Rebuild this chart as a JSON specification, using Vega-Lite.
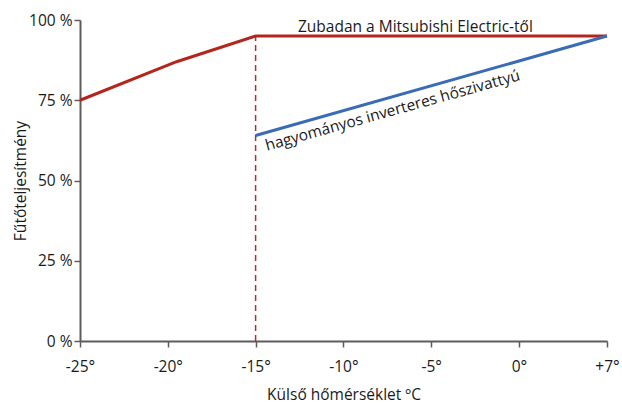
{
  "$schema": "https://vega.github.io/schema/vega-lite/v6.json",
  "width": 527,
  "height": 321,
  "autosize": "none",
  "padding": {"left": 80, "top": 20, "right": 15, "bottom": 64},
  "background": "white",
  "config": {
    "view": {"stroke": null},
    "font": "Open Sans",
    "axis": {
      "grid": false,
      "labelFlush": false,
      "domainColor": "#5c5c5c",
      "domainWidth": 2,
      "tickColor": "#5c5c5c",
      "tickWidth": 1.5,
      "tickSize": 6,
      "labelFont": "Open Sans",
      "labelFontSize": 15.5,
      "labelColor": "#1a1a1a",
      "titleFont": "Open Sans",
      "titleFontSize": 15.5,
      "titleFontWeight": "normal",
      "titleColor": "#1a1a1a"
    }
  },
  "datasets": {
    "lines": [
      {"series": "Zubadan", "temp": -25, "cap": 75},
      {"series": "Zubadan", "temp": -19.5, "cap": 87},
      {"series": "Zubadan", "temp": -15, "cap": 95},
      {"series": "Zubadan", "temp": 7, "cap": 95},
      {"series": "Inverter", "temp": -15, "cap": 64},
      {"series": "Inverter", "temp": 7, "cap": 95}
    ],
    "marker": [{"temp": -15, "cap": 0, "cap2": 95}],
    "labels": [
      {"label": "Zubadan a Mitsubishi Electric-től", "temp": -5.9, "cap": 96.3},
      {"label": "hagyományos inverteres hőszivattyú", "temp": -7.2, "cap": 71.8}
    ]
  },
  "layer": [
    {
      "data": {"name": "marker"},
      "mark": {"type": "rule", "color": "#c0282d", "strokeWidth": 1.5, "strokeDash": [6, 4]},
      "encoding": {
        "x": {"field": "temp", "type": "quantitative"},
        "y": {"field": "cap", "type": "quantitative"},
        "y2": {"field": "cap2"}
      }
    },
    {
      "data": {"name": "lines"},
      "mark": {"type": "line", "strokeWidth": 3},
      "encoding": {
        "x": {
          "field": "temp",
          "type": "quantitative",
          "scale": {"domain": [-25, 0, 7], "range": [0, 439, 527], "nice": false, "zero": false},
          "axis": {
            "values": [-25, -20, -15, -10, -5, 0, 7],
            "labelExpr": "(datum.value > 0 ? '+' : '') + datum.value + '°'",
            "labelPadding": 12,
            "title": "Külső hőmérséklet ºC",
            "titlePadding": 13
          }
        },
        "y": {
          "field": "cap",
          "type": "quantitative",
          "scale": {"domain": [0, 100], "nice": false},
          "axis": {
            "values": [0, 25, 50, 75, 100],
            "labelExpr": "datum.value + ' %'",
            "labelPadding": 2,
            "title": "Fűtőteljesítmény",
            "titlePadding": 0
          }
        },
        "color": {
          "field": "series",
          "type": "nominal",
          "scale": {"domain": ["Zubadan", "Inverter"], "range": ["#b3261e", "#3a6bb5"]},
          "legend": null
        }
      }
    },
    {
      "data": {"name": "labels"},
      "transform": [{"filter": "datum.label == 'Zubadan a Mitsubishi Electric-től'"}],
      "mark": {"type": "text", "align": "center", "baseline": "alphabetic", "fontSize": 15.5, "color": "#1a1a1a"},
      "encoding": {
        "x": {"field": "temp", "type": "quantitative"},
        "y": {"field": "cap", "type": "quantitative"},
        "text": {"field": "label"}
      }
    },
    {
      "data": {"name": "labels"},
      "transform": [{"filter": "datum.label == 'hagyományos inverteres hőszivattyú'"}],
      "mark": {"type": "text", "align": "center", "baseline": "middle", "fontSize": 15.5, "angle": -15.6, "color": "#1a1a1a"},
      "encoding": {
        "x": {"field": "temp", "type": "quantitative"},
        "y": {"field": "cap", "type": "quantitative"},
        "text": {"field": "label"}
      }
    }
  ]
}
